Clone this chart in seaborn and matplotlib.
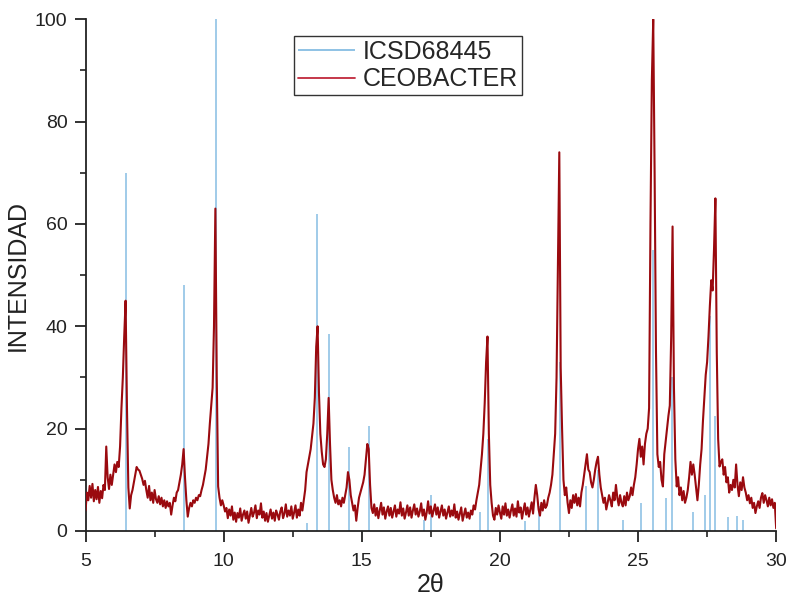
import numpy as np
import pandas as pd
import matplotlib
matplotlib.use("Agg")
import matplotlib.pyplot as plt
from matplotlib.ticker import MultipleLocator
import seaborn as sns

# Reference pattern ICSD 68445: peak positions (2θ) and relative intensities
ref_pos = [6.48, 8.58, 9.71, 13.00, 13.38, 13.80, 14.54, 15.25, 17.27, 17.52,
           19.28, 19.57, 20.90, 21.40, 22.17, 23.10, 23.55, 24.45, 25.12, 25.54,
           26.01, 26.23, 26.98, 27.41, 27.62, 27.80, 28.25, 28.60, 28.79]
ref_int = [70.0, 48.0, 100.0, 1.5, 62.0, 38.5, 16.5, 20.5, 2.2, 7.0,
           3.8, 18.0, 2.0, 4.8, 33.0, 8.7, 12.0, 2.2, 5.5, 55.0,
           6.4, 30.0, 3.8, 7.0, 42.0, 22.4, 2.8, 3.0, 2.2]

# Measured CEOBACTER diffractogram, 2θ = 5.00 ... 30.00 in 0.05° steps
meas_int = [
    # 5.00 - 5.95
    4.0, 7.5, 6.0, 8.8, 6.5, 9.2, 5.8, 8.0, 6.2, 8.6, 5.5, 7.8, 6.4, 9.0, 8.0, 16.5, 10.5, 8.2, 11.0, 9.0,
    # 6.00 - 6.95
    11.0, 13.0, 11.5, 13.5, 12.5, 16.5, 24.0, 30.0, 38.0, 45.0, 24.0, 8.5, 4.4, 7.0, 8.0, 9.5, 11.0, 12.5, 12.0, 11.8,
    # 7.00 - 7.95
    11.0, 10.2, 9.0, 9.8, 8.0, 6.5, 8.8, 6.0, 7.5, 5.5, 8.0, 6.2, 5.5, 6.8, 5.2, 6.5, 4.8, 6.0, 4.5, 5.8,
    # 8.00 - 8.95
    4.8, 5.5, 3.2, 5.0, 6.5, 5.8, 7.5, 8.0, 9.5, 11.0, 13.0, 16.0, 10.5, 6.0, 2.8, 4.5, 5.5, 4.8, 6.0, 5.5,
    # 9.00 - 9.95
    6.5, 6.0, 7.0, 6.8, 8.0, 9.0, 10.5, 12.0, 14.5, 17.0, 21.0, 24.5, 28.0, 40.0, 63.0, 30.0, 8.7, 6.5, 5.0, 6.0,
    # 10.00 - 10.95
    5.0, 3.8, 4.5, 2.5, 4.2, 3.0, 4.8, 2.2, 3.6, 1.8, 3.5, 2.6, 4.4, 2.0, 3.2, 4.0, 2.4, 3.8, 1.6, 3.0,
    # 11.00 - 11.95
    4.5, 2.8, 3.6, 5.0, 2.5, 4.0, 3.2, 5.4, 2.6, 3.8, 2.0, 3.5, 1.8, 3.0, 4.2, 2.4, 3.6, 2.0, 4.0, 3.2,
    # 12.00 - 12.95
    2.2, 3.8, 4.6, 2.5, 3.4, 5.2, 2.8, 4.0, 3.0, 4.8, 2.4, 3.6, 5.0, 2.6, 4.2, 3.0, 5.5, 4.0, 6.0, 8.0,
    # 13.00 - 13.95
    11.5, 13.0, 14.5, 16.0, 18.5, 21.0, 26.0, 36.0, 40.0, 27.0, 19.0, 15.5, 13.0, 12.5, 14.0, 19.0, 26.0, 17.0, 10.0, 8.0,
    # 14.00 - 14.95
    6.5, 5.5, 7.0, 5.2, 6.0, 4.8, 6.5, 5.5, 7.0, 8.5, 11.5, 10.0, 7.0, 5.5, 4.0, 5.0, 2.0, 4.5, 6.5, 7.5,
    # 15.00 - 15.95
    8.5, 9.5, 11.0, 14.0, 17.0, 16.0, 9.0, 4.5, 3.5, 5.2, 3.0, 4.5, 2.5, 4.0, 5.5, 3.2, 4.6, 2.4, 3.8, 4.8,
    # 16.00 - 16.95
    3.0, 4.5, 2.6, 3.8, 5.0, 2.8, 4.2, 3.4, 5.6, 3.0, 4.4, 2.4, 3.6, 5.0, 3.0, 4.6, 2.6, 4.0, 5.2, 3.2,
    # 17.00 - 17.95
    4.4, 2.8, 3.8, 5.4, 3.0, 4.2, 2.2, 3.6, 5.8, 3.4, 4.8, 2.8, 4.0, 5.2, 3.2, 4.6, 2.6, 3.8, 5.0, 3.0,
    # 18.00 - 18.95
    4.2, 2.4, 3.6, 4.8, 2.8, 4.0, 3.0, 5.2, 2.6, 3.8, 2.2, 3.4, 4.6, 2.0, 3.2, 4.4, 2.6, 3.6, 2.4, 4.0,
    # 19.00 - 19.95
    3.2, 5.0, 4.2, 6.0, 7.5, 9.0, 12.0, 15.0, 19.0, 25.0, 33.0, 38.0, 19.0, 9.0, 5.5, 3.0, 2.2, 4.5, 3.2, 5.0,
    # 20.00 - 20.95
    3.6, 2.4, 4.8, 3.2, 5.4, 3.0, 4.2, 2.6, 4.0, 5.2, 3.0, 4.4, 2.8, 5.8, 3.6, 4.6, 2.4, 4.0, 5.4, 3.2,
    # 21.00 - 21.95
    4.6, 2.8, 4.2, 5.6, 3.4, 6.5, 9.0, 7.0, 4.2, 3.0, 5.5, 4.0, 6.0, 4.5, 5.0, 6.5, 7.5, 9.0, 11.0, 15.0,
    # 22.00 - 22.95
    19.0, 30.0, 52.0, 74.0, 32.0, 20.0, 10.0, 7.0, 8.5, 5.5, 3.5, 6.0, 4.5, 7.0, 5.5, 7.2, 5.0, 6.5, 4.8, 7.5,
    # 23.00 - 23.95
    9.0, 11.0, 13.0, 15.0, 12.0, 11.5, 9.5, 8.5, 10.0, 12.0, 13.5, 14.5, 11.0, 8.5, 7.0, 5.5, 6.5, 4.2, 5.5, 7.0,
    # 24.00 - 24.95
    6.0, 4.8, 7.5, 6.0, 9.0, 6.5, 5.0, 7.0, 5.5, 4.8, 6.8, 5.0, 7.5, 6.0, 6.8, 8.5, 7.0, 9.0, 10.5, 13.0,
    # 25.00 - 25.95
    16.0, 18.0, 14.5, 16.5, 13.0, 17.0, 19.0, 20.0, 24.0, 60.0, 88.0, 100.0, 70.0, 35.0, 15.0, 12.5, 13.5, 10.0, 8.7, 15.0,
    # 26.00 - 26.95
    17.5, 20.0, 22.5, 24.5, 38.0, 59.5, 28.0, 14.0, 8.7, 10.5, 7.0, 8.5, 6.0, 7.8, 5.5, 6.5, 8.0, 10.5, 13.5, 11.0,
    # 27.00 - 27.95
    13.0, 11.0, 8.5, 6.0, 9.0, 13.0, 16.0, 21.5, 26.0, 30.5, 33.0, 38.0, 44.0, 49.0, 47.0, 55.0, 65.0, 35.0, 18.0, 12.6,
    # 28.00 - 28.95
    13.5, 14.0, 11.0, 12.5, 9.5, 10.5, 7.5, 9.0, 8.0, 10.0, 8.5, 13.0, 9.0, 6.8, 9.5, 8.0, 10.5, 8.5, 7.5, 6.0,
    # 29.00 - 30.00
    7.0, 5.4, 6.5, 4.5, 5.5, 3.5, 4.8, 5.8, 4.5, 6.5, 7.4, 5.5, 7.0, 6.0, 4.8, 6.5, 5.0, 6.2, 4.5, 5.5, 0.5,
]

two_theta = np.linspace(5.0, 30.0, len(meas_int))
meas = pd.DataFrame({"2θ": two_theta, "INTENSIDAD": meas_int})

sns.set_style("ticks")
plt.rcParams["font.family"] = ["Liberation Sans", "DejaVu Sans"]
plt.rcParams["axes.linewidth"] = 1.3

fig = plt.figure(figsize=(7.92, 6.02), dpi=100)
ax = fig.add_axes([0.108, 0.118, 0.872, 0.850])

blue = "#86bde3"
red = "#9a0a0f"

ax.vlines(ref_pos, 0, ref_int, color=blue, lw=1.1, zorder=2, label="ICSD68445")
sns.lineplot(data=meas, x="2θ", y="INTENSIDAD", ax=ax, color=red, lw=1.5,
             sort=False, estimator=None, zorder=3, label="CEOBACTER")

ax.set_xlim(5, 30)
ax.set_ylim(0, 100)
ax.xaxis.set_major_locator(MultipleLocator(5))
ax.xaxis.set_minor_locator(MultipleLocator(2.5))
ax.yaxis.set_major_locator(MultipleLocator(20))
ax.yaxis.set_minor_locator(MultipleLocator(10))
ax.tick_params(which="major", direction="out", length=8, width=1.3,
               labelsize=14, colors="#222222", pad=5)
ax.tick_params(which="minor", direction="out", length=4.5, width=1.2,
               colors="#222222")
ax.tick_params(axis="x", which="major", pad=8)
for sp in ("left", "bottom"):
    ax.spines[sp].set_color("#222222")
sns.despine(ax=ax)

ax.set_xlabel("2θ", fontsize=18, color="#222222", labelpad=2)
ax.set_ylabel("INTENSIDAD", fontsize=18, color="#222222", labelpad=4)

leg = ax.legend(loc="upper left", bbox_to_anchor=(294 / 792, 1 - 36 / 602),
                bbox_transform=fig.transFigure, fontsize=18, frameon=True,
                fancybox=False, borderaxespad=0, borderpad=0.15,
                handlelength=2.3, handletextpad=0.3, labelspacing=0.15)
leg.get_frame().set_edgecolor("#333333")
leg.get_frame().set_linewidth(1.0)
leg.get_frame().set_alpha(1)
for line in leg.get_lines():
    line.set_linewidth(1.3)
leg.get_lines()[1].set_color("#c0283c")

fig.savefig("out.png", dpi=100, facecolor="white")
